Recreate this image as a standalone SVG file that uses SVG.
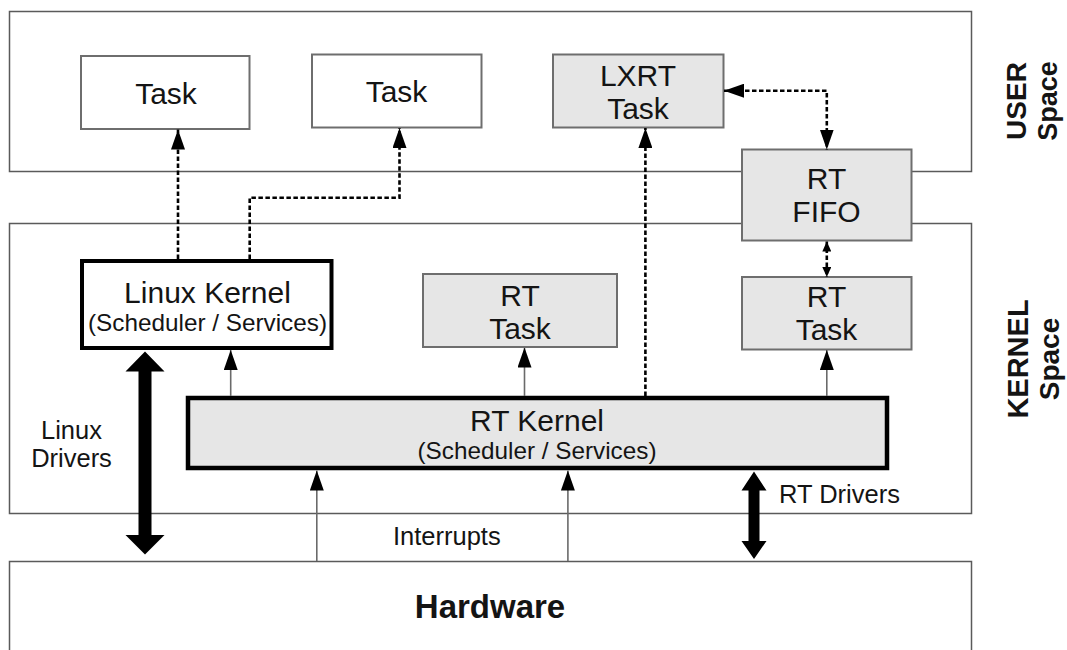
<svg xmlns="http://www.w3.org/2000/svg" width="1067" height="650" viewBox="0 0 1067 650">
<style>
text{font-family:"Liberation Sans",Arial,sans-serif;fill:#141414}
.region{fill:#ffffff;stroke:#5a5a5a;stroke-width:1.5}
.box{fill:#ffffff;stroke:#6e6e6e;stroke-width:2}
.gbox{fill:#e6e6e6;stroke:#6e6e6e;stroke-width:2}
.kbox{fill:#ffffff;stroke:#000;stroke-width:4}
.kgbox{fill:#e6e6e6;stroke:#000;stroke-width:4.5}
.t{font-size:30px;text-anchor:middle}
.s{font-size:24.3px;text-anchor:middle}
.lbl{font-size:25.5px}
.rot{font-weight:bold;text-anchor:middle}
.dash{fill:none;stroke:#000;stroke-width:2.6;stroke-dasharray:4.5,2.5}
.solid{fill:none;stroke:#6a6a6a;stroke-width:1.6}
.thick{fill:#000;stroke:none}
</style>
<defs>
<marker id="ah" markerUnits="userSpaceOnUse" markerWidth="20" markerHeight="14" refX="20" refY="7" orient="auto-start-reverse" viewBox="0 0 20 14">
<path d="M0,0 L20,7 L0,14 z" fill="#000"/>
</marker>
<marker id="ahs" markerUnits="userSpaceOnUse" markerWidth="10" markerHeight="9" refX="10" refY="4.5" orient="auto-start-reverse" viewBox="0 0 10 9">
<path d="M0,0 L10,4.5 L0,9 z" fill="#000"/>
</marker>
</defs>

<g id="user-space">
<rect class="region" x="9.5" y="11.5" width="962" height="160"/>
<text class="rot" transform="translate(1026,101) rotate(-90)" style="font-size:28px">USER</text>
<text class="rot" transform="translate(1057,101) rotate(-90)" style="font-size:27px">Space</text>
</g>
<g id="kernel-space">
<rect class="region" x="9.5" y="223.5" width="962" height="290"/>
<text class="rot" transform="translate(1027.5,359) rotate(-90)" style="font-size:29px">KERNEL</text>
<text class="rot" transform="translate(1059,359) rotate(-90)" style="font-size:28px">Space</text>
</g>
<g id="hardware">
<rect class="region" x="9.5" y="561.5" width="962" height="100"/>
<text x="490" y="618" style="font-size:33px;font-weight:bold;text-anchor:middle">Hardware</text>
</g>

<g id="task1">
<rect class="box" x="81" y="56" width="168.5" height="73"/>
<text class="t" x="166" y="103.5">Task</text>
</g>
<g id="task2">
<rect class="box" x="312" y="54.5" width="169.5" height="73"/>
<text class="t" x="396.5" y="102">Task</text>
</g>
<g id="lxrt-task">
<rect class="gbox" x="553" y="54.5" width="170.5" height="73"/>
<text class="t" x="638" y="85.5">LXRT</text>
<text class="t" x="638" y="118.5">Task</text>
</g>
<g id="rt-fifo">
<rect class="gbox" x="742" y="149.5" width="169.5" height="91"/>
<text class="t" x="826.5" y="188.5">RT</text>
<text class="t" x="826.5" y="222">FIFO</text>
</g>
<g id="linux-kernel">
<rect class="kbox" x="82" y="261" width="249.5" height="87"/>
<text class="t" x="207.5" y="302.5">Linux Kernel</text>
<text class="s" x="207.5" y="330.5">(Scheduler / Services)</text>
</g>
<g id="rt-task-mid">
<rect class="gbox" x="423" y="274" width="194" height="73"/>
<text class="t" x="520" y="305.5">RT</text>
<text class="t" x="520" y="338.5">Task</text>
</g>
<g id="rt-task-right">
<rect class="gbox" x="742" y="277" width="169.5" height="72.5"/>
<text class="t" x="826.5" y="306.5">RT</text>
<text class="t" x="826.5" y="340">Task</text>
</g>
<g id="rt-kernel">
<rect class="kgbox" x="188" y="398" width="699" height="70"/>
<text class="t" x="537" y="431">RT Kernel</text>
<text class="s" x="537" y="458.5">(Scheduler / Services)</text>
</g>

<g id="connectors">
<path class="dash" d="M178,259 V129.5" marker-end="url(#ah)"/>
<path class="dash" d="M249.7,259 V197.7 H399.5 V128" marker-end="url(#ah)"/>
<path class="dash" d="M645.4,396 V128" marker-end="url(#ah)"/>
<path class="dash" d="M724,90.7 H826.8 V149.5" marker-start="url(#ah)" marker-end="url(#ah)"/>
<path class="dash" d="M826.8,241.5 V277" marker-start="url(#ahs)" marker-end="url(#ahs)"/>
<path class="solid" d="M230.7,396 V350" marker-end="url(#ah)"/>
<path class="solid" d="M524.5,396 V347.5" marker-end="url(#ah)"/>
<path class="solid" d="M826.8,396 V350" marker-end="url(#ah)"/>
<path class="solid" d="M316.8,561 V470.5" marker-end="url(#ah)"/>
<path class="solid" d="M567.9,561 V470.5" marker-end="url(#ah)"/>
<polygon class="thick" points="145,351.5 164.5,371.5 151.5,371.5 151.5,535 164.5,535 145,554.5 125.5,535 138.5,535 138.5,371.5 125.5,371.5"/>
<polygon class="thick" points="754,471.5 766.5,490.5 759.5,490.5 759.5,541 766.5,541 754,559 741.5,541 748.5,541 748.5,490.5 741.5,490.5"/>
</g>

<g id="labels">
<text class="lbl" x="71.5" y="439" text-anchor="middle">Linux</text>
<text class="lbl" x="71.5" y="466.7" text-anchor="middle">Drivers</text>
<text class="lbl" x="446.8" y="545" text-anchor="middle">Interrupts</text>
<text class="lbl" x="779" y="503">RT Drivers</text>
</g>
</svg>
